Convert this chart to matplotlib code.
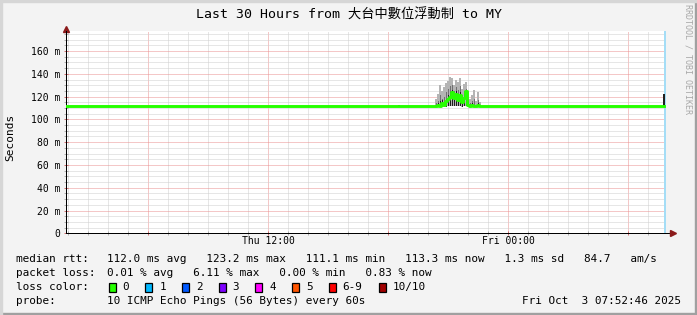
import numpy as np
import matplotlib
matplotlib.use('Agg')
import matplotlib.pyplot as plt
from matplotlib.patches import Rectangle

# ---- data (times in hours since Thu 00:00, values in ms) ----
t_start = 1.88
t_end = 31.88
median_level = 112.0

# burst of jitter on Thursday evening
burst_hours = [20.4, 20.5, 20.6, 20.7, 20.8, 20.9, 21.0, 21.1, 21.2, 21.3, 21.4, 21.5,
               21.6, 21.7, 21.8, 21.9, 22.0, 22.1, 22.2, 22.3, 22.4, 22.5, 22.6]
burst_median = [112, 113, 112, 114, 113, 116, 118, 120, 124, 119, 122, 117,
                121, 115, 119, 125, 113, 112, 113, 112, 112, 113, 112]
burst_low = [111, 111, 111, 111, 111, 111, 112, 112, 112, 112, 112, 112,
             112, 111, 112, 112, 111, 111, 111, 111, 111, 111, 111]
burst_high = [118, 122, 130, 125, 128, 132, 134, 137, 136, 130, 135, 133,
              136, 127, 131, 133, 124, 118, 121, 126, 116, 124, 115]
burst_mid = [114, 116, 121, 118, 120, 124, 127, 129, 130, 125, 128, 126,
             129, 121, 125, 127, 118, 114, 116, 118, 113, 117, 113]
burst_core = [113, 114, 116, 117, 115, 118, 121, 124, 126, 122, 125, 120,
              124, 118, 122, 124, 116, 113, 114, 113, 112, 114, 112]

# single blips elsewhere
blip_hours = [18.55, 31.78]
blip_low = [111, 112]
blip_high = [113, 122]
last_hour = 31.78
loss_hour = 31.83

y_max = 177.6
ytick_vals = [0, 20, 40, 60, 80, 100, 120, 140, 160]
ytick_labels = ['0', '20 m', '40 m', '60 m', '80 m', '100 m', '120 m', '140 m', '160 m']
xmajor = [6, 12, 18, 24, 30]
xmajor_labels = ['', 'Thu 12:00', '', 'Fri 00:00', '']

title = 'Last 30 Hours from 大台中數位浮動制 to MY'
legend_rows = [
    ('median rtt:', '112.0 ms avg   123.2 ms max   111.1 ms min   113.3 ms now   1.3 ms sd   84.7   am/s'),
    ('packet loss:', '0.01 % avg   6.11 % max   0.00 % min   0.83 % now'),
    ('loss color:', ''),
    ('probe:', '10 ICMP Echo Pings (56 Bytes) every 60s'),
]
loss_labels = ['0', '1', '2', '3', '4', '5', '6-9', '10/10']
loss_colors = ['#26ff00', '#00b8ff', '#0059ff', '#7e00ff', '#ff00ff', '#ff5500', '#ff0000', '#a10000']
stamp = 'Fri Oct  3 07:52:46 2025'

# ---- figure ----
W, H = 697, 315
mono = ['DejaVu Sans Mono', 'Noto Sans CJK TC']
fs_leg = 7.93

def fx(px):
    return px / W

def fy(py):
    return 1 - py / H

fig = plt.figure(figsize=(W / 100, H / 100), dpi=100, facecolor='#f3f3f3')

# 3d-ish frame around the image
fig.add_artist(Rectangle((0, 0), 1, 2 / H, transform=fig.transFigure, color='#a0a0a0'))
fig.add_artist(Rectangle((1 - 2 / W, 0), 2 / W, 1, transform=fig.transFigure, color='#a0a0a0'))
fig.add_artist(Rectangle((0, 1 - 2 / H), 1, 2 / H, transform=fig.transFigure, color='#d6d6d6'))
fig.add_artist(Rectangle((0, 0), 2 / W, 1, transform=fig.transFigure, color='#d6d6d6'))

ax = fig.add_axes([fx(66), fy(233.3), 600 / W, (233.3 - 31) / H])
ax.set_facecolor('white')
ax.set_xlim(t_start, t_end)
ax.set_ylim(0, y_max)

# grid
ax.set_xticks(xmajor)
ax.set_xticklabels(xmajor_labels)
ax.set_xticks(np.arange(2, 32, 1), minor=True)
ax.set_yticks(ytick_vals)
ax.set_yticklabels(ytick_labels)
ax.set_yticks(np.arange(0, 180, 5), minor=True)
ax.grid(which='minor', color='#cfcfcf', linestyle=(0, (1, 1)), linewidth=0.72, zorder=0)
ax.grid(which='major', color='#eb9090', linestyle=(0, (1, 1)), linewidth=0.72, zorder=0)
ax.set_axisbelow(True)
ax.tick_params(which='both', direction='inout', length=3, width=0.72, pad=2.8, labelsize=7)
ax.tick_params(axis='x', which='both', pad=0.8)
ax.tick_params(which='major', color='#d07070')
ax.tick_params(which='minor', color='#b0b0b0')
for lab in ax.get_xticklabels() + ax.get_yticklabels():
    lab.set_family(mono)

for s in ['top', 'right']:
    ax.spines[s].set_visible(False)
for s in ['left', 'bottom']:
    ax.spines[s].set_color('black')
    ax.spines[s].set_linewidth(0.72)

# axis arrows
ax.plot([1, 1.012], [0, 0], color='black', lw=0.72, transform=ax.transAxes, clip_on=False)
ax.plot([1.012], [0], marker='>', ms=4.5, color='#8b1a1a', mec='#8b1a1a',
        transform=ax.transAxes, clip_on=False)
ax.plot([0], [1.012], marker='^', ms=4.5, color='#8b1a1a', mec='#8b1a1a',
        transform=ax.transAxes, clip_on=False)

# loss marker at the last sample
ax.axvspan(loss_hour - 0.05, t_end, color='#a4ddf6', lw=0, zorder=1)

# smoke
bl = np.array(burst_low)
ax.bar(burst_hours, np.array(burst_high) - bl, bottom=bl, width=0.1, color='#b4b4b4', lw=0, zorder=2)
ax.bar(burst_hours, np.array(burst_mid) - bl, bottom=bl, width=0.085, color='#707070', lw=0, zorder=2)
ax.bar(burst_hours, np.array(burst_core) - bl, bottom=bl, width=0.07, color='#1e1e1e', lw=0, zorder=2)
ax.bar(blip_hours, np.array(blip_high) - np.array(blip_low), bottom=blip_low, width=0.1,
       color='#202020', lw=0, zorder=2)

# median line
med_t = [t_start] + burst_hours + [last_hour]
med_v = [median_level] + burst_median + [median_level]
ax.plot(med_t, med_v, color='#26ff00', lw=2.1, drawstyle='steps-mid', zorder=3)

# texts
fig.text(0.5, fy(15), title, ha='center', va='center', fontsize=9.5, family=mono)
fig.text(fx(10.5), fy(137), 'Seconds', rotation=90, ha='center', va='center', fontsize=8, family=mono)
fig.text(fx(688), fy(4), 'RRDTOOL / TOBI OETIKER', rotation=270, ha='center', va='top',
         fontsize=6, color='#a8a8a8', family=mono)

row_y = [259.3, 273.3, 287, 301]
for (lab, val), yy in zip(legend_rows, row_y):
    fig.text(fx(16), fy(yy), lab, ha='left', va='center', fontsize=fs_leg, family=mono)
    if val:
        fig.text(fx(107), fy(yy), val, ha='left', va='center', fontsize=fs_leg, family=mono)

bx = 108.5
for lab, col in zip(loss_labels, loss_colors):
    fig.add_artist(Rectangle((fx(bx), fy(row_y[2] + 4.5)), 7 / W, 9 / H, transform=fig.transFigure,
                             facecolor=col, edgecolor='black', lw=0.9))
    fig.text(fx(bx + 14), fy(row_y[2]), lab, ha='left', va='center', fontsize=fs_leg, family=mono)
    bx += 30 + len(lab) * 6.7

fig.text(fx(681), fy(row_y[3]), stamp, ha='right', va='center', fontsize=fs_leg, family=mono)

fig.savefig('out.png', dpi=100, facecolor=fig.get_facecolor())
